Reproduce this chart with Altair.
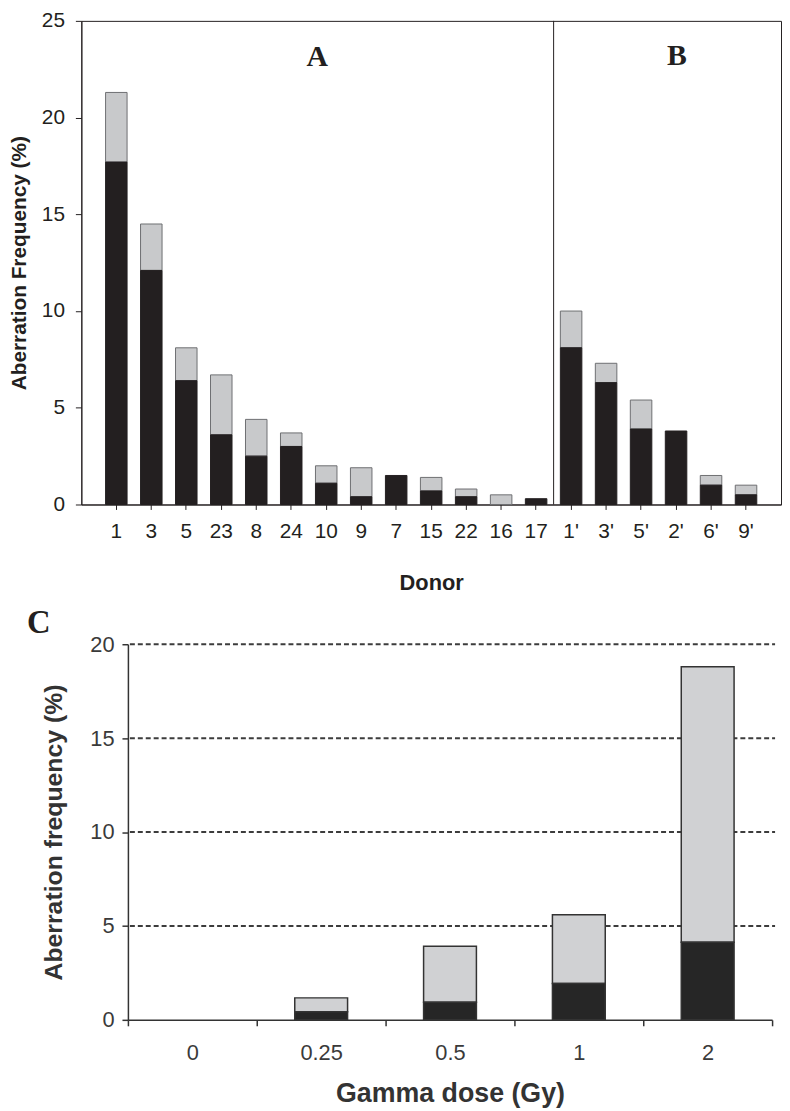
import altair as alt
import pandas as pd

# ---------------- data ----------------
group_a = ["1", "3", "5", "23", "8", "24", "10", "9", "7", "15", "22", "16", "17"]
group_b = ["1'", "3'", "5'", "2'", "6'", "9'"]
donors = group_a + group_b
donor_total = [21.3, 14.5, 8.1, 6.7, 4.4, 3.7, 2.0, 1.9, 1.5, 1.4, 0.8, 0.5, 0.3,
               10.0, 7.3, 5.4, 3.8, 1.5, 1.0]
donor_black = [17.7, 12.1, 6.4, 3.6, 2.5, 3.0, 1.1, 0.4, 1.5, 0.7, 0.4, 0.0, 0.3,
               8.1, 6.3, 3.9, 3.8, 1.0, 0.5]

doses = ["0", "0.25", "0.5", "1", "2"]
dose_total = [0.0, 1.17, 3.92, 5.6, 18.8]
dose_black = [0.0, 0.43, 0.94, 1.93, 4.13]

top_ticks = [0, 5, 10, 15, 20, 25]
bottom_ticks = [0, 5, 10, 15, 20]
grid_values = [5, 10, 15, 20]

SANS = "Liberation Sans"
SERIF = "Liberation Serif"
INK = "#231f20"
INK2 = "#333333"

# ---------------- top chart (A / B) ----------------
W1, H1 = 706, 488
top_df = pd.DataFrame({"donor": donors, "total": donor_total, "black": donor_black})
boundary_df = pd.DataFrame({"donor": [group_b[0]]})

xs1 = alt.Scale(domain=donors, paddingInner=0, paddingOuter=0.5)
ys1 = alt.Scale(domain=[0, 25], nice=False)

x_axis1 = alt.Axis(title="Donor", labelAngle=0, labelFont=SANS, labelFontSize=21,
                   labelColor=INK, labelPadding=11, tickSize=5, tickColor=INK,
                   domainColor=INK, titleFont=SANS, titleFontSize=22,
                   titleFontWeight="bold", titleColor=INK, titlePadding=32)
y_axis1 = alt.Axis(title="Aberration Frequency (%)", values=top_ticks, tickSize=6,
                   tickColor=INK, domainColor=INK, labelFont=SANS, labelFontSize=21,
                   labelColor=INK, labelPadding=11, titleFont=SANS, titleFontSize=21,
                   titleFontWeight="bold", titleColor=INK, titlePadding=12, grid=False)

X1 = alt.X("donor:N", scale=xs1, axis=x_axis1)
Y1 = alt.Y("black:Q", scale=ys1, axis=y_axis1)

black1 = alt.Chart(top_df).transform_filter("datum.black > 0").mark_bar(
    width=alt.RelativeBandSize(0.615), color=INK, stroke=INK, strokeWidth=1
).encode(x=X1, y=Y1)

gray1 = alt.Chart(top_df).transform_filter("datum.total > datum.black").mark_bar(
    width=alt.RelativeBandSize(0.615), color="#c8c9cb", stroke="#6d6e71", strokeWidth=1
).encode(x=X1, y=Y1, y2="total:Q")

divider = alt.Chart(boundary_df).mark_rule(color=INK, strokeWidth=1).encode(
    x=alt.X("donor:N", scale=xs1, axis=x_axis1, bandPosition=0),
    y=alt.value(0), y2=alt.value(H1)
)

label_a = alt.Chart(pd.DataFrame({"t": ["A"]})).mark_text(
    font=SERIF, fontWeight="bold", fontSize=30, color=INK
).encode(text="t:N", x=alt.value(238), y=alt.value(37))
label_b = alt.Chart(pd.DataFrame({"t": ["B"]})).mark_text(
    font=SERIF, fontWeight="bold", fontSize=30, color=INK
).encode(text="t:N", x=alt.value(601), y=alt.value(36))

top = alt.layer(gray1, black1, divider, label_a, label_b).properties(
    width=W1, height=H1, view=alt.ViewBackground(stroke=INK, strokeWidth=1)
)

# ---------------- bottom chart (C) ----------------
W2, H2 = 697, 379
bot_df = pd.DataFrame({"dose": doses, "total": dose_total, "black": dose_black})
grid_df = pd.DataFrame({"v": grid_values})

xs2 = alt.Scale(domain=doses, range=[47, 697], paddingInner=0, paddingOuter=0)
ys2 = alt.Scale(domain=[0, 20], nice=False)

x_axis2 = alt.Axis(title="Gamma dose (Gy)", labelAngle=0, tickBand="extent",
                   labelFont=SANS, labelFontSize=22, labelColor="#3a3a3a",
                   labelPadding=17, tickSize=6, tickColor=INK2, tickWidth=1.5,
                   domainColor=INK2, domainWidth=1.5, titleFont=SANS,
                   titleFontSize=27, titleFontWeight="bold", titleColor=INK2,
                   titlePadding=17)
y_axis2 = alt.Axis(title="Aberration frequency (%)", values=bottom_ticks, offset=-47,
                   tickSize=6, tickColor=INK2, tickWidth=1.5, domainColor=INK2,
                   domainWidth=1.5, labelFont=SANS, labelFontSize=22,
                   labelColor="#3a3a3a", labelPadding=8, titleFont=SANS,
                   titleFontSize=25, titleFontWeight="bold", titleColor=INK2,
                   titlePadding=24, grid=False)

X2 = alt.X("dose:N", scale=xs2, axis=x_axis2)

grid = alt.Chart(grid_df).mark_rule(color="#3c3c3c", strokeWidth=2, strokeDash=[5, 3]).encode(
    y=alt.Y("v:Q", scale=ys2, axis=y_axis2), x=alt.value(49), x2=alt.value(700)
)

black2 = alt.Chart(bot_df).transform_filter("datum.black > 0").mark_bar(
    width=alt.RelativeBandSize(0.41), color="#262626", stroke=INK2, strokeWidth=1.5
).encode(x=X2, y=alt.Y("black:Q", scale=ys2, axis=y_axis2))

gray2 = alt.Chart(bot_df).transform_filter("datum.total > datum.black").mark_bar(
    width=alt.RelativeBandSize(0.41), color="#d0d1d3", stroke=INK2, strokeWidth=1.5
).encode(x=X2, y=alt.Y("black:Q", scale=ys2, axis=y_axis2), y2="total:Q")

label_c = alt.Chart(pd.DataFrame({"t": ["C"]})).mark_text(
    font=SERIF, fontWeight="bold", fontSize=33, color=INK
).encode(text="t:N", x=alt.value(-43), y=alt.value(-21))

bottom = alt.layer(grid, gray2, black2, label_c).properties(
    width=W2, height=H2, view=alt.ViewBackground(stroke="transparent")
)

chart = alt.vconcat(top, bottom, spacing=12).properties(
    padding={"left": 0, "top": -4, "right": 0, "bottom": 0}
).configure(background="white")

chart.save("out.html", embed_options={"renderer": "svg", "actions": False})
